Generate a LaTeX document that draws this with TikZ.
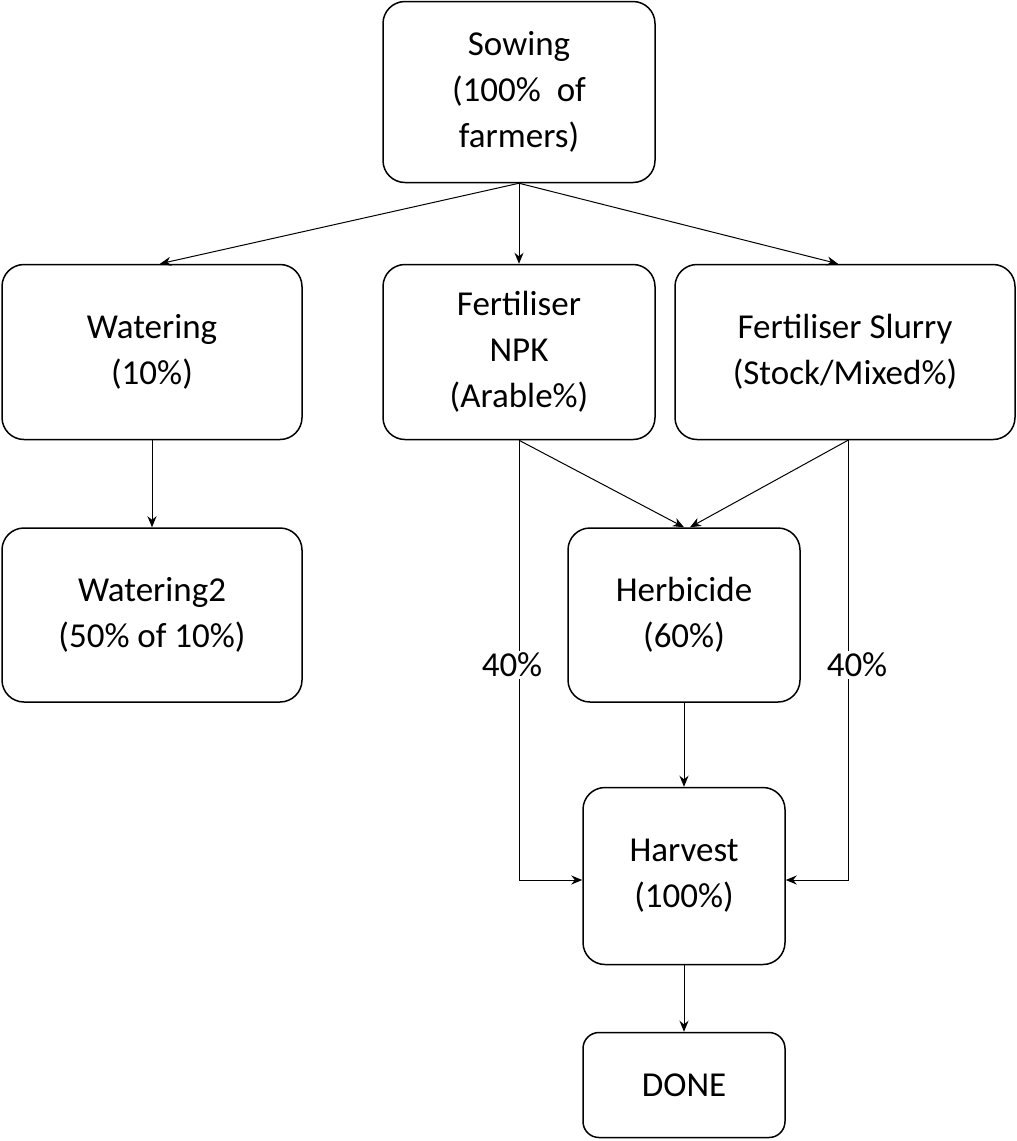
\documentclass[tikz,border=0pt]{standalone}
\usepackage{fontspec}
\setmainfont{Carlito}
\usetikzlibrary{arrows.meta}
\begin{document}
\begin{tikzpicture}[x=1pt,y=-1pt,
 box/.style={draw,line width=1.5pt,rounded corners=22pt,align=center,font=\fontsize{35}{46}\selectfont,inner sep=0pt},
 arr/.style={line width=1pt,-{Stealth[length=11pt,width=9pt]}},
 lab/.style={fill=white,font=\fontsize{35}{42}\selectfont,inner sep=2pt}]
\useasboundingbox (0,0) rectangle (1017,1141);
\node[box,minimum width=272pt,minimum height=181pt] (sow) at (519,92) {Sowing\\(100\%~ of\\farmers)};
\node[box,minimum width=300pt,minimum height=175pt] (wat) at (152,352) {Watering\\(10\%)};
\node[box,minimum width=272pt,minimum height=175pt] (npk) at (519,352) {Fertiliser\\NPK\\(Arable\%)};
\node[box,minimum width=340pt,minimum height=175pt] (slu) at (845,352) {Fertiliser Slurry\\(Stock/Mixed\%)};
\node[box,minimum width=300pt,minimum height=174pt] (wat2) at (152,615) {Watering2\\(50\% of 10\%)};
\node[box,minimum width=232pt,minimum height=174pt] (herb) at (684,615) {Herbicide\\(60\%)};
\node[box,minimum width=202pt,minimum height=177pt] (harv) at (684,876) {Harvest\\(100\%)};
\node[box,minimum width=202pt,minimum height=105pt,rounded corners=16pt] (done) at (684,1085) {DONE};
\draw[arr] (sow.south) -- (wat.north -| 160,0);
\draw[arr] (sow.south) -- (npk.north);
\draw[arr] (sow.south) -- (slu.north -| 838,0);
\draw[arr] (wat.south) -- (wat2.north);
\draw[arr] (npk.south) -- (herb.north -| 684,0);
\draw[arr] (slu.south -| 848,0) -- (herb.north -| 690,0);
\draw[arr] (npk.south) -- (519,880) -- (harv.west |- 0,880);
\draw[arr] (slu.south -| 848,0) -- (848,880) -- (harv.east |- 0,880);
\node[lab] (l1) at (512,665) {40\%};
\node[lab] (l2) at (857,665) {40\%};
\draw[arr] (herb.south) -- (harv.north);
\draw[arr] (harv.south) -- (done.north);
\end{tikzpicture}
\end{document}
